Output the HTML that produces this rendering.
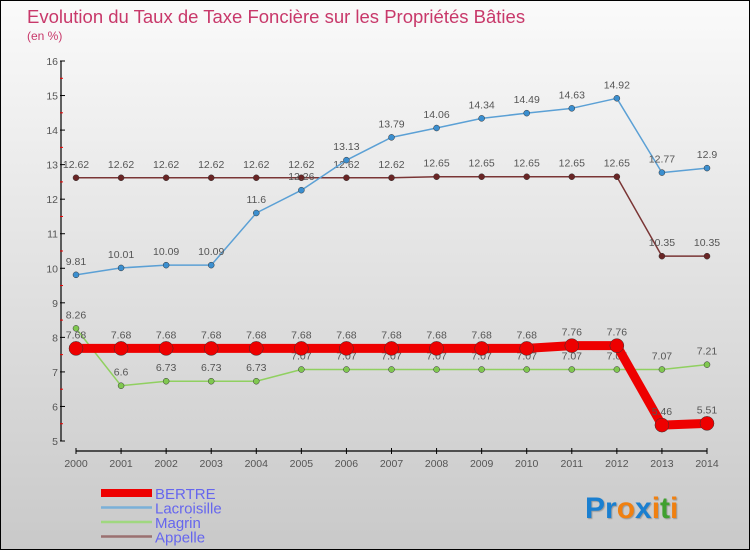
<!DOCTYPE html>
<html><head><meta charset="utf-8"><style>
body{margin:0;}
#wrap{width:748px;height:548px;border:1px solid #000;background:linear-gradient(#fafafa,#c9c9c9);position:relative;font-family:"Liberation Sans",sans-serif;overflow:hidden}
svg text{font-family:"Liberation Sans",sans-serif}
</style></head><body>
<div id="wrap">
<svg id="s" width="748" height="548">
<text x="26" y="22" font-size="18.5" fill="#c8386a">Evolution du Taux de Taxe Foncière sur les Propriétés Bâties</text>
<text x="26" y="39" font-size="12" fill="#c8386a">(en %)</text>
<g id="axes"></g><g id="series"></g><g id="legend"></g>
<text x="584" y="517" font-size="30" font-weight="bold" style="text-shadow:1px 1px 1px #999"><tspan fill="#1a7fd0">Pr</tspan><tspan fill="#f08010">o</tspan><tspan fill="#1a7fd0">x</tspan><tspan fill="#f08010">i</tspan><tspan fill="#40a030">t</tspan><tspan fill="#f08010">i</tspan></text>
</svg></div>
<script>
const years=[2000,2001,2002,2003,2004,2005,2006,2007,2008,2009,2010,2011,2012,2013,2014];
const yTicks=[5,6,7,8,9,10,11,12,13,14,15,16];
const bertre=[7.68,7.68,7.68,7.68,7.68,7.68,7.68,7.68,7.68,7.68,7.68,7.76,7.76,5.46,5.51];
const lacroisille=[9.81,10.01,10.09,10.09,11.6,12.26,13.13,13.79,14.06,14.34,14.49,14.63,14.92,12.77,12.9];
const magrin=[8.26,6.6,6.73,6.73,6.73,7.07,7.07,7.07,7.07,7.07,7.07,7.07,7.07,7.07,7.21];
const appelle=[12.62,12.62,12.62,12.62,12.62,12.62,12.62,12.62,12.65,12.65,12.65,12.65,12.65,10.35,10.35];
const NS="http://www.w3.org/2000/svg";
function X(i){return 75+i*(706-75)/(years.length-1);}
function Y(v){return 440-(v-5)*(440-60)/11;}
function mk(t,a,p){const e=document.createElementNS(NS,t);for(const k in a)e.setAttribute(k,a[k]);p.appendChild(e);return e;}
const ax=document.getElementById('axes');
let e=mk('line',{x1:60,y1:60,x2:60,y2:440,stroke:'#000','stroke-width':1.2},ax);

yTicks.forEach(v=>{
 mk('line',{x1:59,y1:Y(v),x2:64,y2:Y(v),stroke:'#000'},ax);
 if(v<16)mk('line',{x1:59,y1:Y(v+0.5),x2:62,y2:Y(v+0.5),stroke:'#e00'},ax);
 const t=mk('text',{x:57,y:Y(v)+4,'text-anchor':'end','font-size':10.5,fill:'#555'},ax);t.textContent=v;
 
});
e=mk('line',{x1:75,y1:450,x2:706,y2:450,stroke:'#000','stroke-width':1.2},ax);

years.forEach((y,i)=>{
 mk('line',{x1:X(i),y1:447,x2:X(i),y2:453,stroke:'#000'},ax);
 const t=mk('text',{x:X(i),y:466,'text-anchor':'middle','font-size':10.5,fill:'#555'},ax);t.textContent=y;
 
});
const sg=document.getElementById('series');
function series(name,data,color,w,r,dot){
 const g=mk('g',{},sg);
 
 const p=mk('polyline',{points:data.map((v,i)=>X(i)+','+Y(v)).join(' '),fill:'none',stroke:color,'stroke-width':w,'stroke-linejoin':'round'},g);
 
 data.forEach((v,i)=>{
  const c=mk('circle',{cx:X(i),cy:Y(v),r:r,fill:dot,stroke:'#333','stroke-width':0.5},g);
  
  const t=mk('text',{x:X(i),y:Y(v)-10,'text-anchor':'middle','font-size':10.5,fill:'#555'},g);t.textContent=v;
  
 });
}
series('appelle',appelle,'#7a3535',1.5,3,'#6a2525');
series('lacroisille',lacroisille,'#5ba0d5',1.5,3,'#3b8fd0');
series('magrin',magrin,'#90d060',1.5,3,'#80c850');
series('bertre',bertre,'#ee0000',9,7,'#ee0000');
const lg=document.getElementById('legend');
[['BERTRE','#ee0000',8],['Lacroisille','#7ab0d8',2.5],['Magrin','#a0d880',2.5],['Appelle','#9a7070',2.5]].forEach((d,i)=>{
 const g=mk('g',{},lg);
 const y=492+i*14.5;
 mk('line',{x1:100,y1:y,x2:151,y2:y,stroke:d[1],'stroke-width':d[2]},g);
 const t=mk('text',{x:154,y:y+6,'font-size':15,fill:'#6666ee'},g);t.textContent=d[0];
});
</script>
</body></html>
